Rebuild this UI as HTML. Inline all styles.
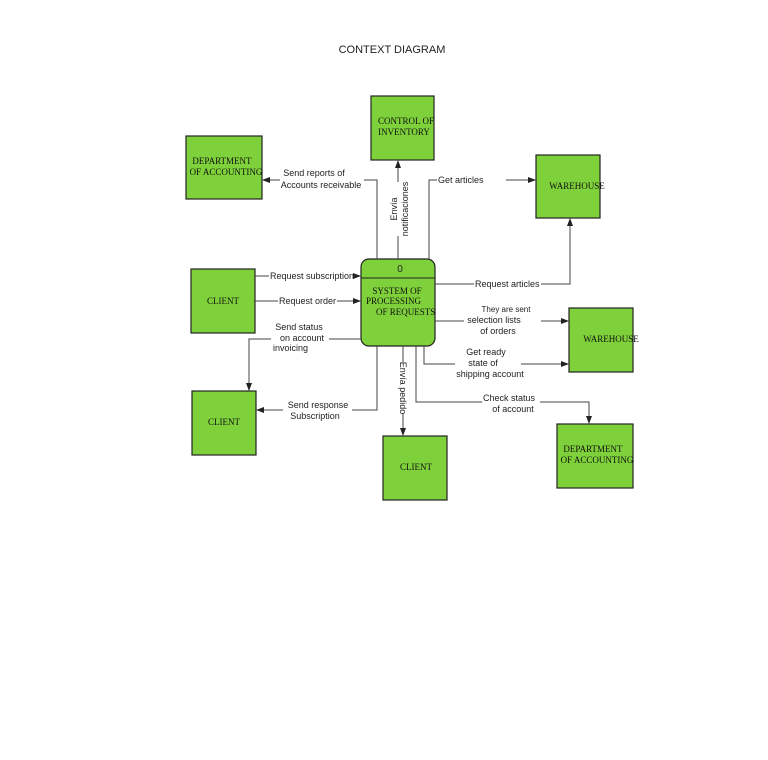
<!DOCTYPE html>
<html><head><meta charset="utf-8"><style>
html,body{margin:0;padding:0;background:#fff;width:768px;height:760px;overflow:hidden}
svg text{font-family:"Liberation Sans",sans-serif;font-size:9px;fill:#222}
.b{fill:#7ed13a;stroke:#222;stroke-width:1.2}
.t{font-family:"Liberation Serif",serif !important;font-size:9px;fill:#111}
.l{fill:none;stroke:#444;stroke-width:1}
</style></head><body>
<svg width="768" height="760" viewBox="0 0 768 760" xmlns="http://www.w3.org/2000/svg">
<defs><marker id="a" markerWidth="8" markerHeight="6" refX="7" refY="3" orient="auto" markerUnits="userSpaceOnUse"><path d="M0,0 L8,3 L0,6 z" fill="#222"/></marker></defs>
<text x="392" y="53" text-anchor="middle" style="font-size:11px">CONTEXT DIAGRAM</text>

<rect class="b" x="371" y="96" width="63" height="64"/>
<text class="t" x="406" y="124" text-anchor="middle">CONTROL OF</text>
<text class="t" x="404" y="135" text-anchor="middle">INVENTORY</text>

<rect class="b" x="186" y="136" width="76" height="63"/>
<text class="t" x="222" y="164" text-anchor="middle">DEPARTMENT</text>
<text class="t" x="226" y="175" text-anchor="middle">OF ACCOUNTING</text>

<rect class="b" x="536" y="155" width="64" height="63"/>
<text class="t" x="577" y="189" text-anchor="middle">WAREHOUSE</text>

<rect class="b" x="191" y="269" width="64" height="64"/>
<text class="t" x="223" y="304" text-anchor="middle">CLIENT</text>

<rect class="b" x="361" y="259" width="74" height="87" rx="8"/>
<line x1="361" y1="278" x2="435" y2="278" stroke="#222" stroke-width="1"/>
<text x="400" y="272" text-anchor="middle" style="font-size:10px">0</text>
<text class="t" x="397" y="294" text-anchor="middle">SYSTEM OF</text>
<text class="t" x="366" y="304">PROCESSING</text>
<text class="t" x="376" y="315">OF REQUESTS</text>

<rect class="b" x="569" y="308" width="64" height="64"/>
<text class="t" x="611" y="342" text-anchor="middle">WAREHOUSE</text>

<rect class="b" x="192" y="391" width="64" height="64"/>
<text class="t" x="224" y="425" text-anchor="middle">CLIENT</text>

<rect class="b" x="383" y="436" width="64" height="64"/>
<text class="t" x="416" y="470" text-anchor="middle">CLIENT</text>

<rect class="b" x="557" y="424" width="76" height="64"/>
<text class="t" x="593" y="452" text-anchor="middle">DEPARTMENT</text>
<text class="t" x="597" y="463" text-anchor="middle">OF ACCOUNTING</text>

<!-- connectors -->
<path class="l" d="M377,259 V180 H364 M280,180 H263" marker-end="url(#a)"/>
<text x="314" y="176" text-anchor="middle">Send reports of</text>
<text x="321" y="188" text-anchor="middle">Accounts receivable</text>

<path class="l" d="M398,259 V236 M398,182 V161" marker-end="url(#a)"/>
<text transform="translate(397,209) rotate(-90)" text-anchor="middle">Envía</text>
<text transform="translate(408,209) rotate(-90)" text-anchor="middle">notificaciones</text>

<path class="l" d="M429,259 V180 H437 M506,180 H535" marker-end="url(#a)"/>
<text x="438" y="183">Get articles</text>

<path class="l" d="M255,276 H269 M356,276 H360" marker-end="url(#a)"/>
<text x="270" y="279">Request subscription</text>
<path class="l" d="M255,301 H278 M337,301 H360" marker-end="url(#a)"/>
<text x="279" y="304">Request order</text>

<path class="l" d="M435,284 H474 M541,284 H570 V219" marker-end="url(#a)"/>
<text x="475" y="287">Request articles</text>

<path class="l" d="M435,321 H464 M541,321 H568" marker-end="url(#a)"/>
<text x="506" y="312" text-anchor="middle" style="font-size:8px">They are sent</text>
<text x="494" y="323" text-anchor="middle">selection lists</text>
<text x="498" y="334" text-anchor="middle">of orders</text>

<path class="l" d="M424,346 V364 H455 M521,364 H568" marker-end="url(#a)"/>
<text x="486" y="355" text-anchor="middle">Get ready</text>
<text x="483" y="366" text-anchor="middle">state of</text>
<text x="490" y="377" text-anchor="middle">shipping account</text>

<path class="l" d="M416,346 V402 H482 M540,402 H589 V423" marker-end="url(#a)"/>
<text x="509" y="401" text-anchor="middle">Check status</text>
<text x="513" y="412" text-anchor="middle">of account</text>

<path class="l" d="M403,346 V435" marker-end="url(#a)"/>
<rect x="398" y="362" width="10" height="52" fill="#fff"/>
<text transform="translate(400,388) rotate(90)" text-anchor="middle">Envía pedido</text>

<path class="l" d="M377,346 V410 H352 M283,410 H257" marker-end="url(#a)"/>
<text x="318" y="408" text-anchor="middle">Send response</text>
<text x="315" y="419" text-anchor="middle">Subscription</text>

<path class="l" d="M361,339 H329 M271,339 H249 V390" marker-end="url(#a)"/>
<text x="299" y="330" text-anchor="middle">Send status</text>
<text x="302" y="341" text-anchor="middle">on account</text>
<text x="273" y="351">invoicing</text>
</svg>
</body></html>
